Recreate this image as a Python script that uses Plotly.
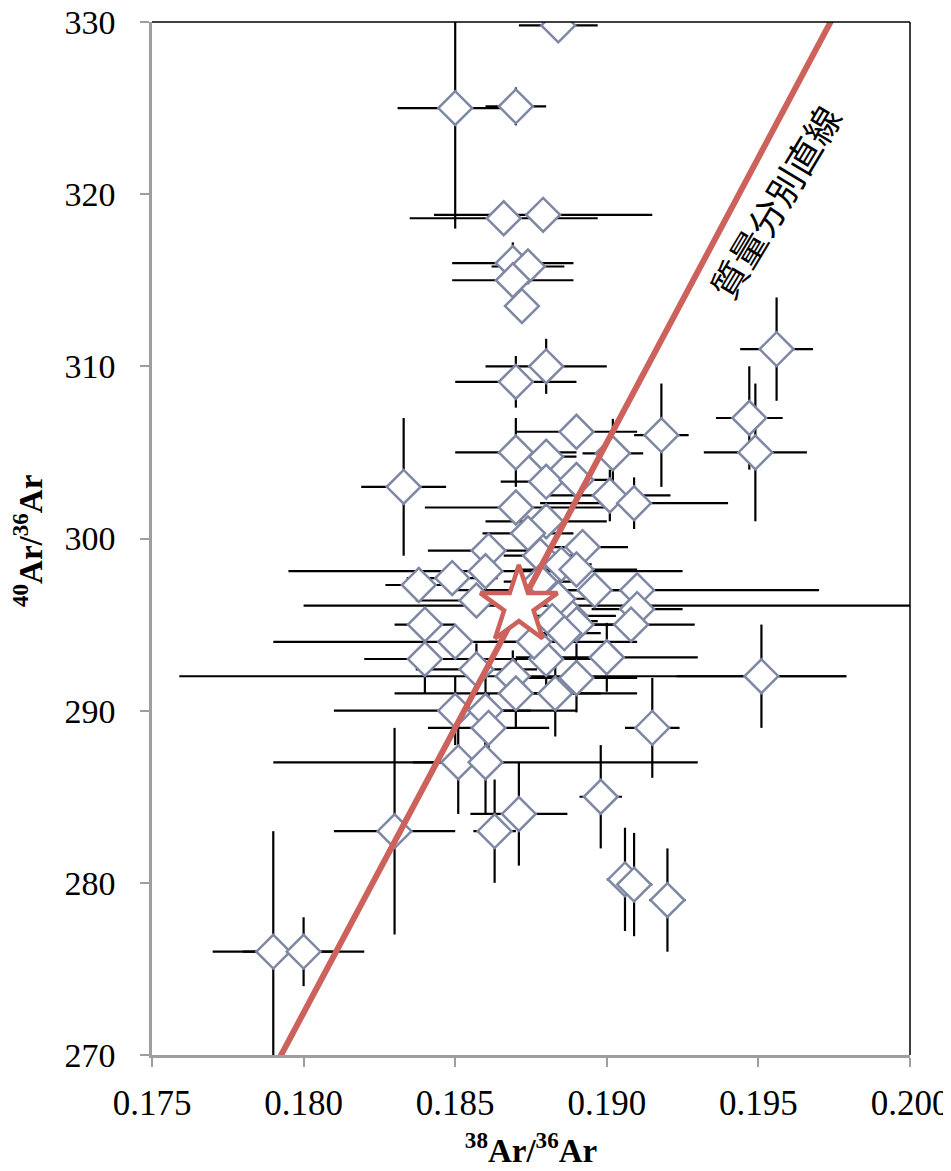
import plotly.graph_objects as go

# ---- data ----
ratio_38_36 = [
    0.1884, 0.1850, 0.1870, 0.1866, 0.1879, 0.1869, 0.1874, 0.1869, 0.1872, 0.1870, 0.1880,
    0.1956, 0.1947, 0.1949, 0.1918, 0.1951,
    0.1833, 0.1890, 0.1870, 0.1880, 0.1902, 0.1880, 0.1890, 0.1901, 0.1909,
    0.1870, 0.1880, 0.1874, 0.1861, 0.1892, 0.1878, 0.1885, 0.1890, 0.1860, 0.1849,
    0.1838, 0.1896, 0.1910, 0.1857, 0.1910, 0.1888, 0.1884, 0.1840, 0.1850, 0.1890,
    0.1908, 0.1840, 0.1880, 0.1900, 0.1857, 0.1869, 0.1890, 0.1870, 0.1883, 0.1850,
    0.1860, 0.1861, 0.1915, 0.1851, 0.1860, 0.1871, 0.1863, 0.1830, 0.1898, 0.1906,
    0.1909, 0.1920, 0.1790, 0.1800, 0.1878, 0.1882, 0.1886, 0.1876,
]
ratio_40_36 = [
    329.8, 325.0, 325.1, 318.6, 318.8, 316.0, 315.8, 315.0, 313.5, 309.1, 310.0,
    311.0, 307.0, 305.0, 306.0, 292.0,
    303.0, 306.2, 305.0, 304.75, 304.95, 303.3, 303.4, 302.5, 302.05,
    301.8, 301.0, 300.3, 299.3, 299.5, 299.0, 298.5, 298.2, 298.1, 297.7,
    297.3, 297.0, 297.0, 296.4, 295.9, 295.5, 296.5, 295.0, 294.0, 295.0,
    295.0, 293.0, 293.0, 293.1, 292.4, 292.0, 291.9, 291.0, 291.0, 290.0,
    290.0, 289.0, 289.0, 287.0, 287.0, 284.0, 283.0, 283.0, 285.0, 280.2,
    279.9, 279.0, 276.0, 276.0, 297.5, 295.2, 294.5, 294.0,
]
err_38_36 = [
    0.0013, 0.0019, 0.0010, 0.0031, 0.0036, 0.0020, 0.0012, 0.0020, 0.0005, 0.0020, 0.0020,
    0.0012, 0.0011, 0.0017, 0.0009, 0.0028,
    0.0014, 0.0020, 0.0020, 0.0010, 0.0010, 0.0015, 0.0012, 0.0020, 0.0031,
    0.0030, 0.0020, 0.0015, 0.0020, 0.0015, 0.0012, 0.0010, 0.0020, 0.0065, 0.0015,
    0.0011, 0.0015, 0.0060, 0.0020, 0.0015, 0.0015, 0.0010, 0.0010, 0.0060, 0.0015,
    0.0021, 0.0020, 0.0020, 0.0030, 0.0020, 0.0110, 0.0020, 0.0040, 0.0015, 0.0040,
    0.0015, 0.0020, 0.0009, 0.0015, 0.0070, 0.0016, 0.0007, 0.0020, 0.0007, 0.0006,
    0.0006, 0.0006, 0.0020, 0.0020, 0.0012, 0.0015, 0.0012, 0.0015,
]
err_40_36 = [
    0.5, 7.0, 1.1, 0.5, 0.5, 1.2, 0.8, 0.8, 0.5, 1.5, 1.6,
    3.0, 3.0, 4.0, 3.0, 3.0,
    4.0, 1.0, 2.0, 1.0, 2.0, 1.0, 1.0, 1.5, 1.5,
    1.0, 1.0, 1.0, 1.0, 1.0, 1.0, 1.0, 1.0, 1.0, 1.0,
    1.0, 1.0, 1.0, 1.0, 1.0, 1.0, 1.0, 1.0, 1.0, 1.0,
    1.0, 2.0, 2.0, 2.0, 1.5, 1.5, 2.0, 2.0, 2.5, 2.0,
    2.0, 2.0, 2.9, 3.0, 3.0, 3.0, 3.0, 6.0, 3.0, 3.0,
    3.0, 3.0, 7.0, 2.0, 1.0, 1.0, 1.0, 1.0,
]

# atmospheric reference point (star) and its 38/36 error (asymmetric)
star_38_36 = [0.1871]
star_40_36 = [296.1]
star_err_plus = [0.0145]
star_err_minus = [0.0071]

# mass-fractionation line end points
mfl_38_36 = [0.1792, 0.1975]
mfl_40_36 = [269.8, 330.4]
mfl_label = "質量分別直線"
mfl_label_pos = (0.19552, 319.6)

x_ticks = [0.175, 0.180, 0.185, 0.190, 0.195, 0.200]
x_tick_text = ["0.175", "0.180", "0.185", "0.190", "0.195", "0.200"]
y_ticks = [270, 280, 290, 300, 310, 320, 330]
x_title = "<b><sup>38</sup>Ar/<sup>36</sup>Ar</b>"
y_title = "<b><sup>40</sup>Ar/<sup>36</sup>Ar</b>"

MARKER_EDGE = "#7E87A3"
LINE_RED = "#CD625C"
SERIF = "Liberation Serif, Times New Roman, serif"

fig = go.Figure()

# star's long horizontal error bar (drawn below the diamonds)
fig.add_trace(go.Scatter(
    x=star_38_36, y=star_40_36, mode="markers",
    marker=dict(size=1, opacity=0),
    error_x=dict(type="data", symmetric=False, array=star_err_plus,
                 arrayminus=star_err_minus, color="black", thickness=2.2, width=0),
    cliponaxis=False, showlegend=False, hoverinfo="skip",
))

# samples
fig.add_trace(go.Scatter(
    x=ratio_38_36, y=ratio_40_36, mode="markers",
    marker=dict(symbol="diamond", size=26, color="white",
                line=dict(color=MARKER_EDGE, width=2.5)),
    error_x=dict(type="data", array=err_38_36, color="black", thickness=2.2, width=0),
    error_y=dict(type="data", array=err_40_36, color="black", thickness=2.2, width=0),
    showlegend=False,
))

# mass fractionation line
fig.add_trace(go.Scatter(
    x=mfl_38_36, y=mfl_40_36, mode="lines",
    line=dict(color=LINE_RED, width=6),
    cliponaxis=False, showlegend=False,
))

# star marker
fig.add_trace(go.Scatter(
    x=star_38_36, y=star_40_36, mode="markers",
    marker=dict(symbol="star", size=58, color="white",
                line=dict(color=LINE_RED, width=4.5)),
    showlegend=False,
))

fig.add_annotation(
    x=mfl_label_pos[0], y=mfl_label_pos[1], xref="x", yref="y",
    text=mfl_label, showarrow=False, textangle=-59,
    font=dict(family="Noto Sans CJK JP", size=36, color="black"),
)

# y-axis title placed as a rotated annotation
fig.add_annotation(
    x=-0.1636, y=0.4976, xref="paper", yref="paper",
    text=y_title, showarrow=False, textangle=-90,
    xanchor="center", yanchor="middle",
    font=dict(family=SERIF, size=33, color="black"),
)

# plot-area border (top and right in black)
fig.add_shape(type="line", xref="paper", yref="paper", x0=0, x1=1, y0=1, y1=1,
              line=dict(color="black", width=1.5))
fig.add_shape(type="line", xref="paper", yref="paper", x0=1, x1=1, y0=0, y1=1,
              line=dict(color="black", width=1.5))

fig.update_xaxes(
    range=[0.175, 0.200], tickvals=x_ticks, ticktext=x_tick_text, automargin=False,
    showgrid=False, zeroline=False, showline=True, linecolor="#9E9E9E", linewidth=2.5,
    ticks="outside", ticklen=9, tickwidth=2, tickcolor="#9E9E9E", ticklabelstandoff=6,
    ticklabeloverflow="allow",
    tickfont=dict(family=SERIF, size=35, color="black"),
    title=dict(text=x_title, standoff=18,
               font=dict(family=SERIF, size=33, color="black")),
)
fig.update_yaxes(
    range=[270, 330], tickvals=y_ticks, automargin=False,
    showgrid=False, zeroline=False, showline=True, linecolor="#9E9E9E", linewidth=2.5,
    ticks="outside", ticklen=9, tickwidth=2, tickcolor="#9E9E9E", ticklabelstandoff=18,
    ticklabeloverflow="allow",
    tickfont=dict(family=SERIF, size=34, color="black"),
)

# the page body adds an 8px offset; size the figure so the plot area lands
# where the reference has it
fig.update_layout(
    width=943, height=1163,
    margin=dict(l=144, r=41, t=14, b=116),
    plot_bgcolor="white", paper_bgcolor="white",
    showlegend=False,
)

fig.write_html("out.html")
